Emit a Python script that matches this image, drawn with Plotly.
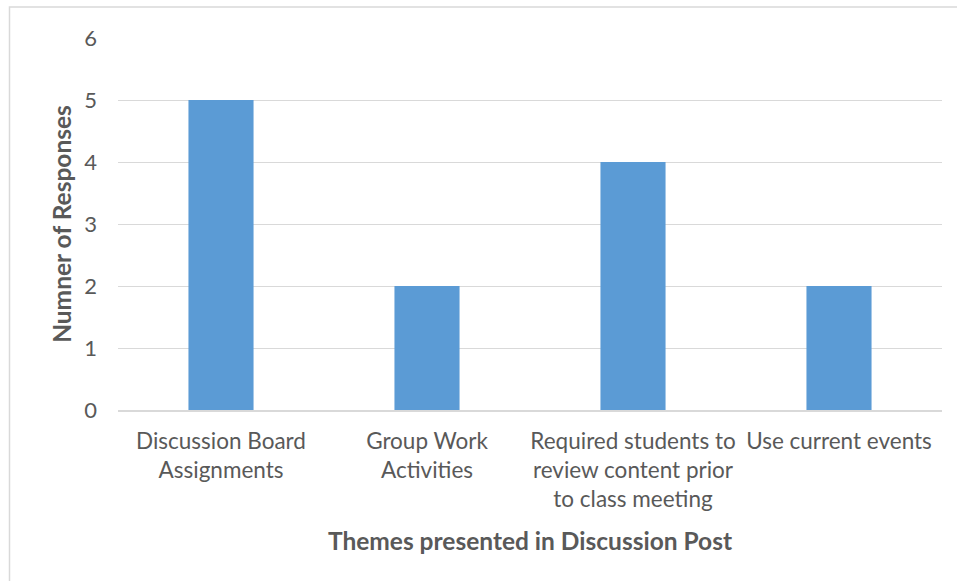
import plotly.graph_objects as go

categories = ["Discussion Board<br>Assignments", "Group Work<br>Activities",
              "Required students to<br>review content prior<br>to class meeting",
              "Use current events"]
values = [5, 2, 4, 2]
y_ticks = [0, 1, 2, 3, 4, 5, 6]

FONT = "Lato"
TXT = "#595959"

fig = go.Figure(go.Bar(x=categories, y=values, marker_color="#5b9bd5",
                       marker_line_width=0))

L, R, T, B = 118, 15, 38, 171
W, H = 957, 581
pw, ph = W - L - R, H - T - B

fig.update_layout(
    width=W, height=H,
    margin=dict(l=L, r=R, t=T, b=B),
    paper_bgcolor="white", plot_bgcolor="white",
    bargap=0.684,
    showlegend=False,
    font=dict(family=FONT, color=TXT, size=22),
    xaxis=dict(
        showgrid=False, showline=True, linecolor="#d9d9d9", linewidth=1.5,
        tickfont=dict(size=22.5, color=TXT, family=FONT),
        title=dict(text="<b>Themes presented in Discussion Post</b>",
                   font=dict(size=24.5, color=TXT, family=FONT), standoff=22),
        ticks="", ticklabelstandoff=10,
    ),
    yaxis=dict(
        range=[0, 6], tickvals=y_ticks, showgrid=True, gridcolor="#d9d9d9",
        gridwidth=1.2, zeroline=False,
        tickfont=dict(size=22, color=TXT, family=FONT),
        ticklabelstandoff=20,
        title=dict(text="<b>Numner of Responses</b>",
                   font=dict(size=24.5, color=TXT, family=FONT), standoff=5),
    ),
    shapes=[dict(type="rect", xref="paper", yref="paper",
                 x0=(9.5 - L) / pw, x1=(W + 5 - L) / pw,
                 y0=(T + ph - (H + 5)) / ph, y1=(T + ph - 7) / ph,
                 line=dict(color="#d9d9d9", width=1.5), layer="below")],
)

fig.write_html("out.html", config={"displayModeBar": False},
               post_script="document.body.style.margin='0';")
